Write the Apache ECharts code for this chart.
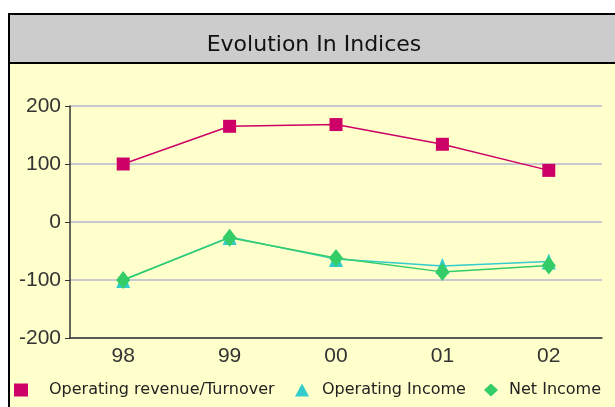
<!DOCTYPE html>
<html>
<head>
<meta charset="utf-8">
<script src="https://cdn.jsdelivr.net/npm/echarts@6/dist/echarts.min.js"></script>
<style>
  html, body { margin: 0; padding: 0; background: #fff; }
  #chart { width: 615px; height: 407px; }
</style>
</head>
<body>
<div id="chart"></div>
<script>
var years = ['98', '99', '00', '01', '02']
var revenue = [100, 165, 168, 134, 89]
var opIncome = [-100, -26, -64, -76, -68]
var netIncome = [-100, -27, -62, -86, -75]
var yTicks = { min: -200, max: 200, step: 100 }

var names = ['Operating revenue/Turnover', 'Operating Income', 'Net Income']
var colors = ['#CC0066', '#33CCCC', '#33CC66']

var chart = echarts.init(document.getElementById('chart'))

function legendAt(i, left, icon, pad) {
  return {
    data: [{ name: names[i], icon: icon }],
    left: left,
    top: 382,
    padding: 0,
    itemWidth: 14,
    itemHeight: 13,
    textStyle: { fontFamily: 'DejaVu Sans', fontSize: 16, color: '#222', padding: [0, 0, 0, pad] }
  }
}

var option = {
  animation: false,
  backgroundColor: '#fff',
  color: colors,
  graphic: [
    { type: 'rect', z: -10, shape: { x: 9, y: 14, width: 700, height: 500 },
      style: { fill: '#FFFFCC', stroke: '#000', lineWidth: 2 } },
    { type: 'rect', z: -9, shape: { x: 9, y: 14, width: 700, height: 49 },
      style: { fill: '#CCCCCC', stroke: '#000', lineWidth: 2 } }
  ],
  title: {
    text: 'Evolution In Indices',
    left: 314,
    top: 34,
    padding: 0,
    textAlign: 'center',
    textStyle: { fontFamily: 'DejaVu Sans', fontSize: 22, fontWeight: 'normal', color: '#111' }
  },
  legend: [
    legendAt(0, 14, 'rect', 16),
    legendAt(1, 295, 'triangle', 8),
    legendAt(2, 484, 'diamond', 6)
  ],
  grid: { left: 70, right: 13, top: 106, bottom: 69, containLabel: false },
  xAxis: {
    type: 'category',
    data: years,
    boundaryGap: true,
    axisLine: { onZero: false, lineStyle: { color: '#333', width: 1.5 } },
    axisTick: { length: 5, lineStyle: { color: '#333' } },
    axisLabel: { fontFamily: 'Liberation Sans', fontSize: 21, color: '#333', margin: 8 }
  },
  yAxis: {
    type: 'value',
    min: yTicks.min,
    max: yTicks.max,
    interval: yTicks.step,
    axisLine: { show: true, lineStyle: { color: '#333', width: 1.5 } },
    axisTick: { show: true, length: 5, lineStyle: { color: '#333' } },
    axisLabel: { fontFamily: 'Liberation Sans', fontSize: 21, color: '#333', margin: 9 },
    splitLine: { lineStyle: { color: '#C9C9CF', width: 2 } }
  },
  series: [
    {
      name: names[0], type: 'line', data: revenue,
      symbol: 'rect', symbolSize: 13,
      lineStyle: { width: 1.5 }, itemStyle: { color: colors[0] }
    },
    {
      name: names[1], type: 'line', data: opIncome,
      symbol: 'triangle', symbolSize: [14, 16],
      lineStyle: { width: 1.5 }, itemStyle: { color: colors[1] }
    },
    {
      name: names[2], type: 'line', data: netIncome,
      symbol: 'diamond', symbolSize: [14, 18],
      lineStyle: { width: 1.5 }, itemStyle: { color: colors[2] }
    }
  ]
}
chart.setOption(option)
</script>
</body>
</html>
